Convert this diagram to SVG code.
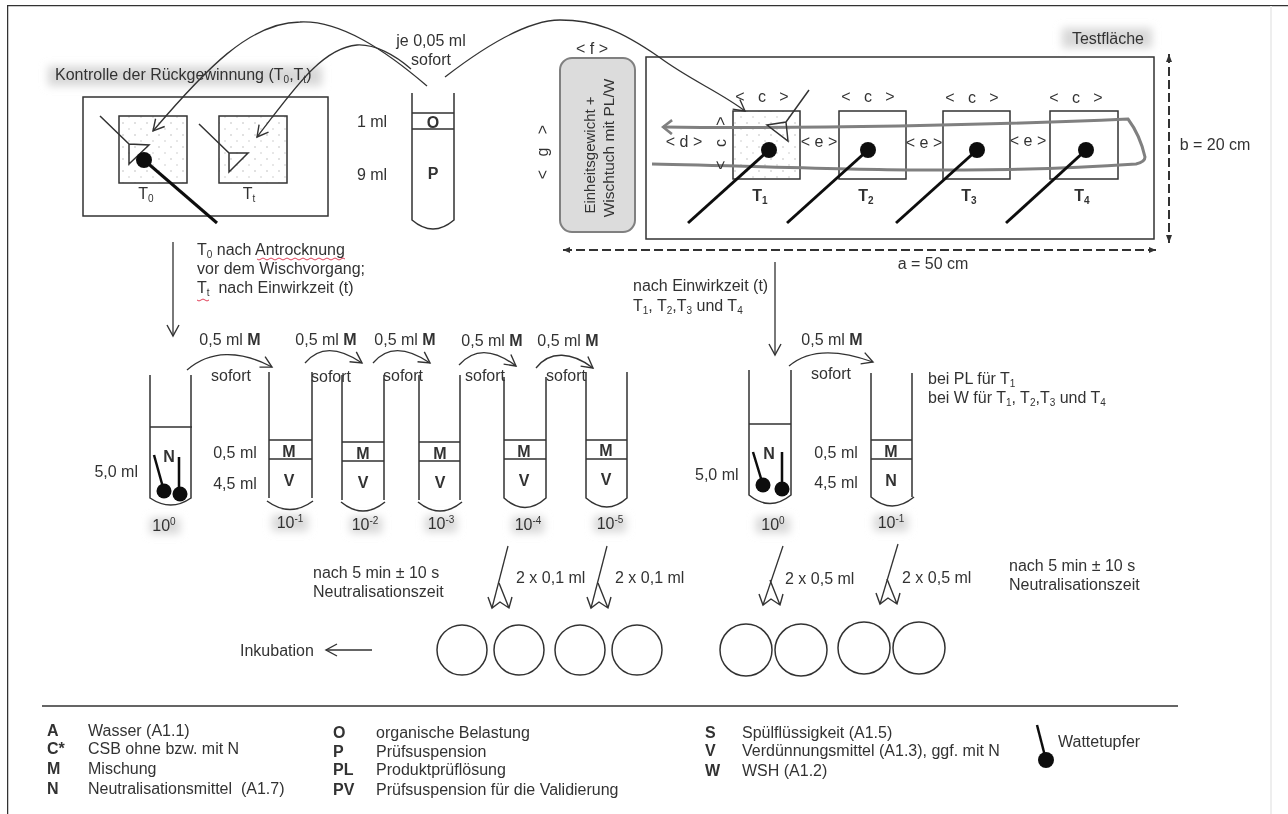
<svg xmlns="http://www.w3.org/2000/svg" width="1288" height="814" viewBox="0 0 1288 814">
<style>
text{font-family:"Liberation Sans",Arial,sans-serif;font-size:16px;fill:#333}
.m{text-anchor:middle}
.e{text-anchor:end}
.b{font-weight:bold}
.s{font-size:10px;baseline-shift:-3px}
.u{font-size:10px;baseline-shift:6px}
.l,.t,.f{fill:none;stroke:#333;stroke-width:1.5}
.f{stroke:#333;stroke-width:1.3}
.a{marker-end:url(#o)}
.st{stroke:#111;stroke-width:3;fill:none}
.bl{fill:#111}
.c{fill:none;stroke:#333;stroke-width:1.5}
.gl{fill:#d8d8d8;filter:url(#g)}
.dd{stroke:#333;stroke-width:2;stroke-dasharray:9 4;fill:none}
.w{fill:none;stroke:#e0405a;stroke-width:1}
.gr{fill:none;stroke:#808080;stroke-width:3}
</style>
<defs>
<filter id="g" x="-30%" y="-60%" width="160%" height="220%"><feGaussianBlur stdDeviation="4"/></filter>
<filter id="soft" x="0" y="0" width="100%" height="100%"><feGaussianBlur stdDeviation="0.45"/></filter>
<marker id="o" markerWidth="16" markerHeight="16" refX="12" refY="7" orient="auto" markerUnits="userSpaceOnUse"><path d="M1,1 L12,7 L1,13" fill="none" stroke="#333" stroke-width="1.4"/></marker>
<marker id="og" markerWidth="16" markerHeight="16" refX="2" refY="8" orient="auto" markerUnits="userSpaceOnUse"><path d="M11,1 L2,8 L11,15" fill="none" stroke="#808080" stroke-width="2.6"/></marker>
<pattern id="dots" width="12" height="12" patternUnits="userSpaceOnUse"><circle cx="3" cy="3" r="0.7" fill="#aaa"/><circle cx="9" cy="9" r="0.7" fill="#bbb"/></pattern>
<path id="dbl" d="M-4,-11 L0,0 L8,-6 L17,0 L20,-11 M17,0 L7,-25" fill="none" stroke="#333" stroke-width="1.4"/>
</defs>
<rect width="1288" height="814" fill="#fff"/>
<g filter="url(#soft)">
<g id="frame"><path d="M7,814 V5 H1288" fill="none" stroke="#333" stroke-width="2.5"/><path d="M1271,6 V814" stroke="#eee" stroke-width="2" fill="none"/></g>
<g id="glows">
<rect class="gl" x="48" y="66" width="274" height="20"/>
<rect class="gl" x="1062" y="28" width="90" height="20"/>
<rect class="gl" x="150" y="518" width="30" height="16"/>
<rect class="gl" x="272" y="515" width="36" height="16"/>
<rect class="gl" x="350" y="517" width="32" height="16"/>
<rect class="gl" x="425" y="516" width="32" height="16"/>
<rect class="gl" x="512" y="517" width="32" height="16"/>
<rect class="gl" x="594" y="516" width="32" height="16"/>
<rect class="gl" x="756" y="517" width="34" height="16"/>
<rect class="gl" x="874" y="515" width="34" height="16"/>
</g>

<g id="recovery-control">
<text x="55" y="80">Kontrolle der Rückgewinnung (T<tspan class="s">0</tspan>,T<tspan class="s">t</tspan>)</text>
<rect class="l" x="83" y="97" width="245" height="119"/>
<rect x="119" y="116" width="68" height="67" fill="url(#dots)" stroke="#333" stroke-width="1.5"/>
<rect x="219" y="116" width="68" height="67" fill="url(#dots)" stroke="#333" stroke-width="1.5"/>
<path class="l" d="M100,116 L129,144 L149,145 L129,164 L129,144"/>
<path class="l" d="M199,124 L229,153 L248,153 L229,172 L229,153"/>
<line x1="144" y1="160" x2="217" y2="223" class="st"/><circle class="bl" cx="144" cy="160" r="8"/>
<text class="m" x="146" y="199">T<tspan class="s">0</tspan></text>
<text class="m" x="249" y="199">T<tspan class="s">t</tspan></text>
</g>

<g id="tube-OP">
<path class="t" d="M412,93 V220 Q433,238 454,220 V93 M412,113 H454 M412,129 H454"/>
<text class="m" x="431" y="46">je 0,05 ml</text><text class="m" x="431" y="65">sofort</text>
<text class="m" x="372" y="127">1 ml</text><text class="m" x="372" y="180">9 ml</text>
<text class="m b" x="433" y="128">O</text><text class="m b" x="433" y="179">P</text>
</g>

<g id="wipe-block">
<rect x="560" y="58" width="75" height="174" rx="12" fill="#dcdcdc" stroke="#808080" stroke-width="2"/>
<text class="m" style="font-size:15px" transform="translate(595,155) rotate(-90)">Einheitsgewicht +</text>
<text class="m" style="font-size:15.5px" transform="translate(614,148) rotate(-90)">Wischtuch mit PL/W</text>
<text class="m" x="592" y="54">&lt; f &gt;</text>
<text class="m" transform="translate(548,152) rotate(-90)" xml:space="preserve">&lt;   g   &gt;</text>
</g>

<g id="test-area">
<rect class="l" x="646" y="57" width="508" height="182"/>
<text class="m" x="1108" y="44">Testfläche</text>
<rect x="733" y="111" width="67" height="68" fill="url(#dots)" stroke="#333" stroke-width="1.5"/>
<rect class="l" x="839" y="111" width="67" height="68"/>
<rect class="l" x="943" y="111" width="67" height="68"/>
<rect class="l" x="1050" y="111" width="68" height="68"/>
<path class="gr" d="M663,127 C800,129 1000,125 1128,119 Q1140,135 1145,157 Q1145,162 1136,164 C1050,170 980,170 922,170 C850,170 750,166 652,164" marker-start="url(#og)"/>
<path class="l" d="M809,90 L786,122 L767,125 L788,141 L786,122"/>
<line class="st" x1="769" y1="150" x2="688" y2="223"/><circle class="bl" cx="769" cy="150" r="8"/>
<line class="st" x1="868" y1="150" x2="787" y2="223"/><circle class="bl" cx="868" cy="150" r="8"/>
<line class="st" x1="977" y1="150" x2="896" y2="223"/><circle class="bl" cx="977" cy="150" r="8"/>
<line class="st" x1="1086" y1="150" x2="1006" y2="223"/><circle class="bl" cx="1086" cy="150" r="8"/>
<text class="m" x="762" y="102" xml:space="preserve">&lt;   c   &gt;</text>
<text class="m" x="868" y="102" xml:space="preserve">&lt;   c   &gt;</text>
<text class="m" x="972" y="103" xml:space="preserve">&lt;   c   &gt;</text>
<text class="m" x="1076" y="103" xml:space="preserve">&lt;   c   &gt;</text>
<text class="m" x="684" y="147">&lt; d &gt;</text>
<text class="m" transform="translate(726,143) rotate(-90)" xml:space="preserve">&lt;   c   &gt;</text>
<text class="m" x="819" y="147">&lt; e &gt;</text>
<text class="m" x="924" y="148">&lt; e &gt;</text>
<text class="m" x="1028" y="146">&lt; e &gt;</text>
<text class="m b" x="760" y="201">T<tspan class="s">1</tspan></text>
<text class="m b" x="866" y="201">T<tspan class="s">2</tspan></text>
<text class="m b" x="969" y="201">T<tspan class="s">3</tspan></text>
<text class="m b" x="1082" y="201">T<tspan class="s">4</tspan></text>
<path class="dd" d="M563,250 H1156"/><path d="M563,250 l7,-3 v6 z M1156,250 l-7,-3 v6 z" fill="#333"/>
<path class="dd" d="M1169,54 V243"/><path d="M1169,54 l-3,8 h6 z M1169,243 l-3,-8 h6 z" fill="#333"/>
<text class="m" x="933" y="269">a = 50 cm</text>
<text class="m" x="1215" y="150">b = 20 cm</text>
</g>

<g id="notes">
<text x="197" y="255">T<tspan class="s">0</tspan> nach Antrocknung</text>
<text x="197" y="274">vor dem Wischvorgang;</text>
<text x="197" y="293" xml:space="preserve">T<tspan class="s">t</tspan>  nach Einwirkzeit (t)</text>
<path class="w" d="M257,259 q2,2 4,0 t4,0 t4,0 t4,0 t4,0 t4,0 t4,0 t4,0 t4,0 t4,0 t4,0 t4,0 t4,0 t4,0 t4,0 t4,0 t4,0 t4,0 t4,0 t4,0 t4,0 t4,0 M197,300 q2,2 4,0 t4,0 t4,0"/>
<text x="633" y="291">nach Einwirkzeit (t)</text>
<text x="633" y="311">T<tspan class="s">1</tspan>, T<tspan class="s">2</tspan>,T<tspan class="s">3</tspan> und T<tspan class="s">4</tspan></text>
<text x="928" y="384">bei PL für T<tspan class="s">1</tspan></text>
<text x="928" y="403">bei W für T<tspan class="s">1</tspan>, T<tspan class="s">2</tspan>,T<tspan class="s">3</tspan> und T<tspan class="s">4</tspan></text>
<text x="313" y="578">nach 5 min ± 10 s</text><text x="313" y="597">Neutralisationszeit</text>
<text x="1009" y="571">nach 5 min ± 10 s</text><text x="1009" y="590">Neutralisationszeit</text>
<text x="240" y="656">Inkubation</text>
</g>

<g id="tube-row-left">
<g id="tube-l0"><path class="t" d="M150,375 V498 Q171,512 191,498 V375 M150,427 H192"/>
<path d="M154,455 L164,491 M179,457 V493" stroke="#111" stroke-width="2.5" fill="none"/><circle class="bl" cx="164" cy="491" r="7.5"/><circle class="bl" cx="180" cy="494" r="7.5"/>
<text class="m b" x="169" y="462">N</text><text class="e" x="138" y="477">5,0 ml</text><text class="m" x="164" y="531">10<tspan class="u">0</tspan></text></g>
<g id="tube-l1"><path class="t" d="M269,372 V498 M267,501 Q290,518 313,501 M312,498 V372 M269,440 H312 M269,459 H312"/>
<text class="m b" x="289" y="457">M</text><text class="m b" x="289" y="486">V</text><text class="m" x="290" y="528">10<tspan class="u">-1</tspan></text></g>
<g id="tube-l2"><path class="t" d="M342,375 V500 M341,502 Q363,520 385,502 M384,500 V375 M342,442 H384 M342,461 H384"/>
<text class="m b" x="363" y="459">M</text><text class="m b" x="363" y="488">V</text><text class="m" x="365" y="530">10<tspan class="u">-2</tspan></text></g>
<g id="tube-l3"><path class="t" d="M419,375 V500 M418,502 Q440,520 462,502 M460,500 V375 M419,442 H460 M419,461 H460"/>
<text class="m b" x="440" y="459">M</text><text class="m b" x="440" y="488">V</text><text class="m" x="441" y="529">10<tspan class="u">-3</tspan></text></g>
<g id="tube-l4"><path class="t" d="M504,377 V498 Q525,517 546,498 V377 M504,440 H546 M504,459 H546"/>
<text class="m b" x="524" y="457">M</text><text class="m b" x="524" y="486">V</text><text class="m" x="528" y="530">10<tspan class="u">-4</tspan></text></g>
<g id="tube-l5"><path class="t" d="M586,372 V498 Q607,516 627,498 V372 M586,440 H627 M586,459 H627"/>
<text class="m b" x="606" y="456">M</text><text class="m b" x="606" y="485">V</text><text class="m" x="610" y="529">10<tspan class="u">-5</tspan></text></g>
<text class="m" x="235" y="458">0,5 ml</text><text class="m" x="235" y="489">4,5 ml</text>
<text class="m" x="230" y="345">0,5 ml <tspan class="b">M</tspan></text><text class="m" x="326" y="345">0,5 ml <tspan class="b">M</tspan></text><text class="m" x="405" y="345">0,5 ml <tspan class="b">M</tspan></text><text class="m" x="492" y="346">0,5 ml <tspan class="b">M</tspan></text><text class="m" x="568" y="346">0,5 ml <tspan class="b">M</tspan></text>
<text class="m" x="231" y="381">sofort</text><text class="m" x="331" y="382">sofort</text><text class="m" x="403" y="381">sofort</text><text class="m" x="485" y="381">sofort</text><text class="m" x="566" y="381">sofort</text>
<text x="516" y="583">2 x 0,1 ml</text><text x="615" y="583">2 x 0,1 ml</text>
</g>

<g id="tube-row-right">
<g id="tube-r0"><path class="t" d="M749,370 V495 Q770,512 791,495 V370 M749,424 H791"/>
<path d="M753,452 L763,485 M782,452 V489" stroke="#111" stroke-width="2.5" fill="none"/><circle class="bl" cx="763" cy="485" r="7.5"/><circle class="bl" cx="782" cy="489" r="7.5"/>
<text class="m b" x="769" y="459">N</text><text x="695" y="480">5,0 ml</text><text class="m" x="773" y="530">10<tspan class="u">0</tspan></text></g>
<g id="tube-r1"><path class="t" d="M871,373 V497 Q892,515 914,497 M912,497 V373 M871,440 H912 M871,459 H912"/>
<text class="m b" x="891" y="457">M</text><text class="m b" x="891" y="486">N</text><text class="m" x="891" y="528">10<tspan class="u">-1</tspan></text></g>
<text class="m" x="836" y="458">0,5 ml</text><text class="m" x="836" y="488">4,5 ml</text>
<text class="m" x="832" y="345">0,5 ml <tspan class="b">M</tspan></text><text class="m" x="831" y="379">sofort</text>
<text x="785" y="584">2 x 0,5 ml</text><text x="902" y="583">2 x 0,5 ml</text>
</g>

<g id="plates">
<circle class="c" cx="462" cy="650" r="25"/><circle class="c" cx="519" cy="650" r="25"/><circle class="c" cx="580" cy="650" r="25"/><circle class="c" cx="637" cy="650" r="25"/>
<circle class="c" cx="746" cy="650" r="26"/><circle class="c" cx="801" cy="650" r="26"/><circle class="c" cx="864" cy="648" r="26"/><circle class="c" cx="919" cy="648" r="26"/>
</g>

<g id="connectors">
<path class="f a" d="M427,86 C385,50 340,20 300,22 C250,22 205,70 153,131"/>
<path class="f a" d="M411,69 C395,55 375,44 357,45 C320,48 290,95 257,137"/>
<path class="f a" d="M445,77 C480,50 525,20 560,20 C595,20 620,30 659,57 C690,80 720,92 745,111"/>
<path class="f a" d="M173,242 V336"/>
<path class="f a" d="M775,262 V355"/>
<path class="f a" d="M187,370 C210,350 240,350 272,367"/>
<path class="f a" d="M305,363 C320,345 340,348 362,363"/>
<path class="f a" d="M373,363 C388,345 408,348 430,363"/>
<path class="f a" d="M459,365 C475,347 495,350 516,366"/>
<path class="f a" d="M536,368 C550,350 572,352 593,368"/>
<path class="f a" d="M789,366 C810,348 840,350 873,362"/>
<path class="f a" d="M372,650 H326"/>
<path class="f" d="M508,546 L492,608"/><use href="#dbl" x="492" y="608"/>
<path class="f" d="M607,546 L591,608"/><use href="#dbl" x="591" y="608"/>
<path class="f" d="M783,546 L763,605"/><use href="#dbl" x="763" y="605"/>
<path class="f" d="M898,544 L880,604"/><use href="#dbl" x="880" y="604"/>
</g>

<g id="legend">
<line x1="42" y1="706" x2="1178" y2="706" stroke="#333" stroke-width="1.6"/>
<text class="b" x="47" y="736">A</text><text x="88" y="736">Wasser (A1.1)</text>
<text class="b" x="47" y="754">C*</text><text x="88" y="754">CSB ohne bzw. mit N</text>
<text class="b" x="47" y="774">M</text><text x="88" y="774">Mischung</text>
<text class="b" x="47" y="794">N</text><text x="88" y="794" xml:space="preserve">Neutralisationsmittel  (A1.7)</text>
<text class="b" x="333" y="738">O</text><text x="376" y="738">organische Belastung</text>
<text class="b" x="333" y="757">P</text><text x="376" y="757">Prüfsuspension</text>
<text class="b" x="333" y="775">PL</text><text x="376" y="775">Produktprüflösung</text>
<text class="b" x="333" y="795">PV</text><text x="376" y="795">Prüfsuspension für die Validierung</text>
<text class="b" x="705" y="738">S</text><text x="742" y="738">Spülflüssigkeit (A1.5)</text>
<text class="b" x="705" y="756">V</text><text x="742" y="756">Verdünnungsmittel (A1.3), ggf. mit N</text>
<text class="b" x="705" y="776">W</text><text x="742" y="776">WSH (A1.2)</text>
<line x1="1037" y1="725" x2="1046" y2="760" stroke="#111" stroke-width="2.5"/><circle class="bl" cx="1046" cy="760" r="8"/>
<text x="1058" y="747">Wattetupfer</text>
</g>
</g>
</svg>
